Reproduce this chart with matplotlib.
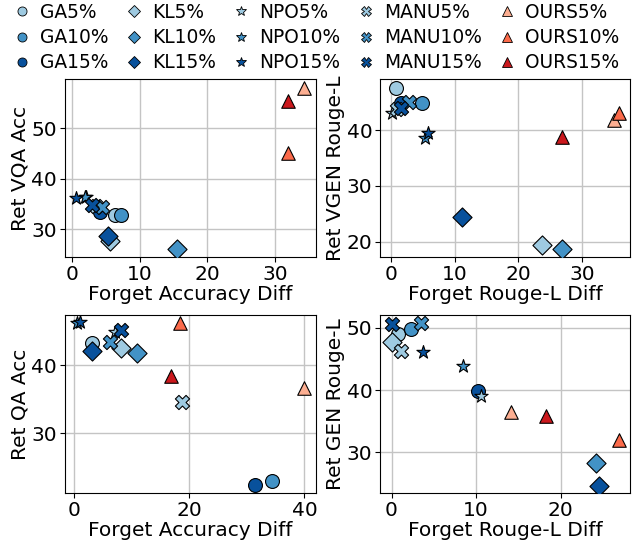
import matplotlib
matplotlib.use("Agg")
import matplotlib.pyplot as plt
from matplotlib.lines import Line2D

methods = ["GA", "KL", "NPO", "MANU", "OURS"]
levels = ["5%", "10%", "15%"]

# panel 1: Forget Accuracy Diff vs Ret VQA Acc
p1_x = {"GA": [6.4, 7.2, 4.1], "KL": [5.6, 15.5, 5.35], "NPO": [2.0, 1.9, 0.5],
        "MANU": [3.5, 4.4, 2.9], "OURS": [34.3, 31.9, 31.9]}
p1_y = {"GA": [32.8, 32.9, 33.5], "KL": [27.6, 26.1, 28.7], "NPO": [36.3, 36.4, 36.2],
        "MANU": [34.6, 34.4, 34.9], "OURS": [58.0, 45.2, 55.5]}
# panel 2: Forget Rouge-L Diff vs Ret VGEN Rouge-L
p2_x = {"GA": [0.8, 4.9, 1.6], "KL": [23.8, 26.9, 11.2], "NPO": [0.2, 5.4, 5.9],
        "MANU": [0.9, 2.9, 1.6], "OURS": [35.1, 35.9, 26.9]}
p2_y = {"GA": [47.6, 44.8, 44.8], "KL": [19.4, 18.7, 24.5], "NPO": [43.1, 38.5, 39.4],
        "MANU": [43.8, 45.0, 44.0], "OURS": [41.8, 43.1, 38.8]}
# panel 3: Forget Accuracy Diff vs Ret QA Acc
p3_x = {"GA": [3.1, 34.3, 31.4], "KL": [8.1, 10.9, 3.1], "NPO": [7.2, 0.5, 1.1],
        "MANU": [18.8, 6.3, 8.2], "OURS": [39.9, 18.4, 16.8]}
p3_y = {"GA": [43.3, 23.0, 22.4], "KL": [42.5, 41.8, 42.1], "NPO": [44.8, 46.1, 46.3],
        "MANU": [34.6, 43.4, 45.2], "OURS": [36.7, 46.1, 38.4]}
# panel 4: Forget Rouge-L Diff vs Ret GEN Rouge-L
p4_x = {"GA": [0.8, 2.25, 10.25], "KL": [0.07, 24.2, 24.5], "NPO": [10.6, 8.5, 3.7],
        "MANU": [1.06, 3.5, 0.0], "OURS": [14.1, 26.9, 18.2]}
p4_y = {"GA": [49.0, 49.8, 39.9], "KL": [47.8, 28.3, 24.6], "NPO": [39.0, 43.9, 46.1],
        "MANU": [46.3, 50.8, 50.6], "OURS": [36.5, 31.9, 35.9]}

xlabels = ["Forget Accuracy Diff", "Forget Rouge-L Diff", "Forget Accuracy Diff", "Forget Rouge-L Diff"]
ylabels = ["Ret VQA Acc", "Ret VGEN Rouge-L", "Ret QA Acc", "Ret GEN Rouge-L"]

markers = {"GA": "o", "KL": "D", "NPO": "*", "MANU": "X", "OURS": "^"}
sizes = {"GA": 100, "KL": 95, "NPO": 100, "MANU": 105, "OURS": 95}
blues = ["#9ecae1", "#4292c6", "#08519c"]
reds = ["#fcae91", "#fb6a4a", "#cb181d"]

plt.rcParams["font.family"] = ["DejaVu Sans"]
plt.rcParams["font.size"] = 14.5

fig = plt.figure(figsize=(6.41, 5.42), dpi=100)
boxes = [(0.101, 0.526, 0.392, 0.328), (0.593, 0.526, 0.390, 0.328),
         (0.101, 0.090, 0.392, 0.329), (0.593, 0.090, 0.390, 0.329)]
lims = [((-1.1, 36.1), (24.5, 59.8)), ((-1.7, 37.6), (17.3, 49.1)),
        ((-1.6, 42.0), (21.2, 47.35)), ((-1.35, 28.2), (23.4, 52.1))]
data = [(p1_x, p1_y), (p2_x, p2_y), (p3_x, p3_y), (p4_x, p4_y)]

for i, (box, (xl, yl), (dx, dy)) in enumerate(zip(boxes, lims, data)):
    ax = fig.add_axes(box)
    ax.grid(True, color="#c4c4c4", linewidth=1.0, zorder=0)
    ax.set_axisbelow(True)
    for m in methods:
        cols = reds if m == "OURS" else blues
        for j in range(3):
            ax.scatter(dx[m][j], dy[m][j], marker=markers[m], s=sizes[m],
                       color=cols[j], edgecolor="black", linewidth=0.8, zorder=3)
    ax.set_xlim(*xl)
    ax.set_ylim(*yl)
    ax.set_xlabel(xlabels[i], labelpad=1)
    ax.set_ylabel(ylabels[i], labelpad=1)
    ax.tick_params(pad=2)
    for s in ax.spines.values():
        s.set_color("black")

handles = []
labels = []
for m in methods:
    cols = reds if m == "OURS" else blues
    for j in range(3):
        ms = {"GA": 6.5, "KL": 6.5, "NPO": 7.5, "MANU": 7, "OURS": 6.5}[m]
        handles.append(Line2D([], [], linestyle="none", marker=markers[m], markersize=ms,
                              markerfacecolor=cols[j], markeredgecolor="black", markeredgewidth=0.6))
        labels.append(m + levels[j])

fig.legend(handles, labels, ncol=5, loc="upper left", bbox_to_anchor=(-0.003, 1.022),
           frameon=False, fontsize=13.4, handletextpad=0.45, columnspacing=0.88,
           labelspacing=0.33, handlelength=1.0, borderpad=0.3)

fig.savefig("out.png", dpi=100)
